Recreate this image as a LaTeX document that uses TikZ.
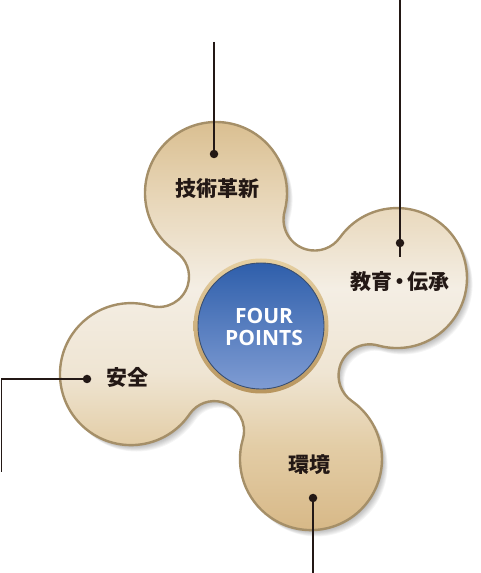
\documentclass[tikz,border=0pt]{standalone}
\usepackage{fontspec}
\newfontfamily\jpfont{Noto Sans CJK JP}
\newfontfamily\fpfont{Open Sans}
\usepackage{tikz}
\usetikzlibrary{positioning}

\definecolor{inkdark}{HTML}{231815}
\definecolor{tanlow}{HTML}{D6B684}
\definecolor{tanmid}{HTML}{E3CDA6}
\definecolor{creamleft}{HTML}{EFE5D3}
\definecolor{creamlight}{HTML}{F4EEE4}
\definecolor{tanupper}{HTML}{E7D5B6}
\definecolor{tantop}{HTML}{D8BC8C}
\definecolor{rimbrown}{HTML}{A58F68}
\definecolor{goldlight}{HTML}{E6D0A2}
\definecolor{golddark}{HTML}{B8955E}
\definecolor{bluetop}{HTML}{2F5FAB}
\definecolor{bluemid}{HTML}{4171BD}
\definecolor{bluelow}{HTML}{7F9CD3}
\definecolor{bluering}{HTML}{3A4F70}

\pgfdeclareverticalshading{cloverfill}{100bp}{color(0bp)=(tanlow); color(25bp)=(tanlow); color(36bp)=(tanmid); color(44.6bp)=(creamleft); color(54.4bp)=(creamlight); color(65.4bp)=(tanupper); color(75bp)=(tantop); color(100bp)=(tantop)}

% outline of the four lobes with their necks
\newcommand{\cloverpath}{(175.88,321.42)
  arc[start angle=235.59,end angle=-15.03,radius=71pt]
  arc[start angle=165.03,end angle=324.55,radius=31.1pt]
  arc[start angle=144.55,end angle=-105.65,radius=70pt]
  arc[start angle=74.35,end angle=234.92,radius=31.16pt]
  arc[start angle=54.92,end angle=-196.27,radius=71pt]
  arc[start angle=-16.27,end angle=145.72,radius=29.77pt]
  arc[start angle=-34.28,end angle=-285.90,radius=71pt]
  arc[start angle=254.10,end angle=415.59,radius=30.3pt] -- cycle}

\tikzset{
  lobetext/.style={font=\jpfont\bfseries\fontsize{21}{21}\selectfont,text=inkdark,inner sep=0pt},
  leader/.style={draw=inkdark,line width=1.2pt},
  leaderdot/.style={circle,fill=inkdark,inner sep=0pt,minimum size=8.5pt}
}

\begin{document}
\begin{tikzpicture}[x=1pt,y=1pt]
	\useasboundingbox (0,0) rectangle (481,573);
	% soft shadow
	\foreach \k in {8,...,1}
		\fill[black,opacity=0.04,xshift=\k*0.7pt,yshift=-\k*0.8pt] \cloverpath;
	\shade[shading=cloverfill] \cloverpath;
	\draw[rimbrown,line width=2.4pt] \cloverpath;
	
	\node[circle,minimum size=135pt,inner sep=0pt,top color=goldlight,bottom color=golddark] (rim) at (261,247) {};
	\node[circle,minimum size=126pt,inner sep=0pt,top color=bluetop,middle color=bluemid,bottom color=bluelow,draw=bluering,line width=0.9pt] (core) at (261,247) {};
	\node[font=\fpfont\bfseries\fontsize{21}{22}\selectfont,text=white,align=center,inner sep=0pt] (four) at (264,246.5) {FOUR\\POINTS};
	
	\node[lobetext] (innov) at (217,384) {技術革新};
	\node[lobetext] (edu) at (400,291) {教育\hspace{-3pt}・\hspace{-3pt}伝承};
	\node[lobetext] (safe) at (127.5,196) {安全};
	\node[lobetext] (env) at (309.5,108.5) {環境};
	
	\node[leaderdot] (dotT) at (214,419) {};
	\node[leaderdot] (dotR) at (400,330) {};
	\node[leaderdot] (dotL) at (87,194) {};
	\node[leaderdot] (dotB) at (313,75) {};
	\coordinate (topend) at (214,531);
	\coordinate (rightend) at (400,573);
	\coordinate (righttail) at (400,316);
	\coordinate (leftend) at (1.5,101);
	\coordinate (bottomend) at (313,0);
	
	\draw[leader] (topend) -- (dotT.center);
	\draw[leader] (rightend) -- (righttail);
	\draw[leader] (dotL.center) -| (leftend);
	\draw[leader] (dotB.center) -- (bottomend);
\end{tikzpicture}
\end{document}
